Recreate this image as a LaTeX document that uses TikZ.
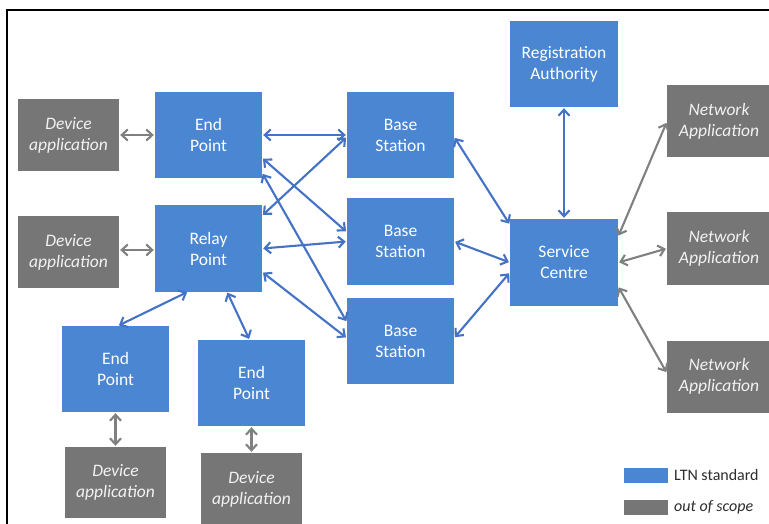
\documentclass[tikz,border=0pt]{standalone}
\usepackage{fontspec}
\setmainfont{Carlito}
\usetikzlibrary{arrows.meta,calc}
\definecolor{boxblue}{RGB}{74,134,210}
\definecolor{boxgray}{RGB}{118,118,118}
\definecolor{arrblue}{RGB}{68,114,196}
\definecolor{arrgray}{RGB}{128,128,128}
\definecolor{legtext}{RGB}{45,45,45}
\begin{document}
\begin{tikzpicture}[x=1pt,y=-1pt,
  ltn/.style={rectangle, fill=boxblue, text=white, minimum width=107pt, minimum height=86pt,
    inner sep=0pt, align=center, font=\fontsize{17.5}{21}\selectfont},
  oos/.style={rectangle, fill=boxgray, text=white!90!gray, minimum width=101pt, minimum height=72pt,
    inner sep=0pt, align=center, font=\fontsize{17.5}{21}\selectfont\itshape},
  tipb/.tip={Straight Barb[length=6pt,width=11pt]},
  barrow/.style={draw=arrblue, line width=2.1pt, tipb-tipb, shorten <=1pt, shorten >=1pt},
  garrow/.style={draw=arrgray, line width=2.1pt, tipb-tipb, shorten <=1pt, shorten >=1pt},
  legbox/.style={rectangle, minimum width=44pt, minimum height=15pt, inner sep=0pt},
  legtxt/.style={anchor=west, text=legtext, inner sep=0pt, font=\fontsize{16}{18}\selectfont}
]
\clip (0,0) rectangle (769,524);
\fill[white] (0,0) rectangle (769,524);
\draw[line width=2pt] (7,540) -- (7,10) -- (780,10);

% LTN nodes
\node[ltn] (ep1) at (208.5,135) {End\\Point};
\node[ltn] (rp)  at (208.5,248.5) {Relay\\Point};
\node[ltn] (ep2) at (115.5,369) {End\\Point};
\node[ltn] (ep3) at (251.5,383) {End\\Point};
\node[ltn] (bs1) at (400.5,135) {Base\\Station};
\node[ltn] (bs2) at (400.5,241.5) {Base\\Station};
\node[ltn] (bs3) at (400.5,341) {Base\\Station};
\node[ltn, minimum width=108pt] (ra) at (564,64) {Registration\\Authority};
\node[ltn, minimum width=108pt, minimum height=87pt] (sc) at (564,262.5) {Service\\Centre};

% out-of-scope nodes
\node[oos] (da1) at (68.5,135) {Device\\application};
\node[oos] (da2) at (68.5,252) {Device\\application};
\node[oos, minimum height=71pt] (da3) at (115.5,482.5) {Device\\application};
\node[oos] (da4) at (251.5,489) {Device\\application};
\node[oos, minimum width=104pt] (na1) at (719,121) {Network\\Application};
\node[oos, minimum width=104pt] (na2) at (719,248.5) {Network\\Application};
\node[oos, minimum width=104pt] (na3) at (719,376.5) {Network\\Application};

% blue connectors
\draw[barrow] (ep1.east) -- (bs1.west);
\draw[barrow] ($(ep1.east)+(0,23)$) -- ($(bs2.west)+(0,-9.5)$);
\draw[barrow] ($(ep1.east)+(0,38)$) -- ($(bs3.west)+(0,-19)$);
\draw[barrow] ($(rp.east)+(0,-33)$) -- ($(bs1.west)+(0,2)$);
\draw[barrow] (rp.east) -- (bs2.west);
\draw[barrow] ($(rp.east)+(0,23.5)$) -- ($(bs3.west)+(0,-3)$);
\draw[barrow] ($(rp.south)+(-20.5,0)$) -- ($(ep2.north)+(2.5,0)$);
\draw[barrow] ($(rp.south)+(18.5,0)$) -- ($(ep3.north)+(-2,0)$);
\draw[barrow] ($(bs1.east)+(0,2)$) -- ($(sc.west)+(0,-38)$);
\draw[barrow] (bs2.east) -- (sc.west);
\draw[barrow] ($(bs3.east)+(0,-3)$) -- ($(sc.west)+(0,10)$);
\draw[barrow] (ra.south) -- (sc.north);

% gray connectors
\draw[garrow] (da1.east) -- (ep1.west);
\draw[garrow] ($(da2.east)+(0,-2)$) -- ($(rp.west)+(0,1.5)$);
\draw[garrow] (ep2.south) -- (da3.north);
\draw[garrow] (ep3.south) -- (da4.north);
\draw[garrow] ($(sc.east)+(0,-26)$) -- ($(na1.west)+(0,1)$);
\draw[garrow] (sc.east) -- (na2.west);
\draw[garrow] ($(sc.east)+(0,24)$) -- ($(na3.west)+(0,-3.5)$);

% legend
\node[legbox, fill=boxblue] (lb) at (646,475) {};
\node[legtxt] (lbt) at (674,475) {LTN standard};
\node[legbox, fill=boxgray] (lg) at (646,507.5) {};
\node[legtxt, font=\fontsize{16}{18}\selectfont\itshape] (lgt) at (674,507.5) {out of scope};
\end{tikzpicture}
\end{document}
